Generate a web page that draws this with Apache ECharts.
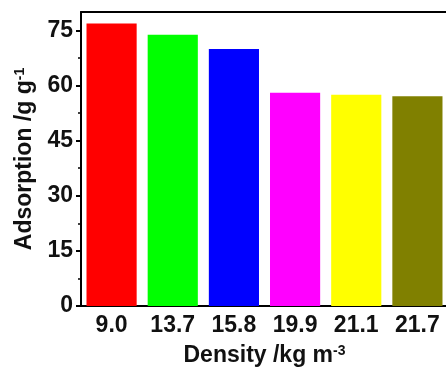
<!DOCTYPE html>
<html>
<head>
<meta charset="UTF-8">
<title></title>
<script src="https://cdn.jsdelivr.net/npm/echarts@6/dist/echarts.min.js"></script>
<style>
  html, body { margin: 0; padding: 0; background: #fff; overflow: hidden; }
</style>
</head>
<body>
<div id="main" style="width: 446px;height:370px;"></div>
<script type="text/javascript">
var densities = ['9.0', '13.7', '15.8', '19.9', '21.1', '21.7'];
var adsorption = [76.9, 73.8, 69.9, 58.0, 57.5, 57.1];
var barColors = ['#ff0000', '#00ff00', '#0000ff', '#ff00ff', '#ffff00', '#808000'];
var yTicks = [0, 15, 30, 45, 60, 75];

var font = 'Liberation Sans, Arial, sans-serif';

var option = {
  animation: false,
  grid: {
    left: 81, top: 12, right: -2, height: 294,
    outerBoundsMode: 'none'
  },
  xAxis: [{
    type: 'category',
    data: densities,
    axisLine: { lineStyle: { color: '#000', width: 2 } },
    axisTick: { show: false },
    axisLabel: { color: '#111', fontFamily: font, fontWeight: 'bold', fontSize: 23, margin: 8 },
    name: '{b|Density /kg m}{s|-3}',
    nameLocation: 'middle',
    nameGap: 38,
    nameTextStyle: {
      rich: {
        b: { fontFamily: font, fontWeight: 'bold', fontSize: 23, color: '#111' },
        s: { fontFamily: font, fontWeight: 'bold', fontSize: 14, color: '#111', verticalAlign: 'top', padding: [0, 0, 10, 0] }
      }
    }
  }, {
    // top frame line
    type: 'category',
    position: 'top',
    data: densities,
    axisLine: { show: true, lineStyle: { color: '#000', width: 2 } },
    axisTick: { show: false },
    axisLabel: { show: false }
  }],
  yAxis: {
    type: 'value',
    min: 0,
    max: 80,
    interval: 15,
    splitLine: { show: false },
    axisLine: { show: true, lineStyle: { color: '#000', width: 2 } },
    axisTick: { show: true, length: 5, lineStyle: { color: '#000', width: 2 }, customValues: yTicks },
    minorTick: { show: true, splitNumber: 2, length: 3, lineStyle: { color: '#000', width: 1.5 } },
    axisLabel: { color: '#111', fontFamily: font, fontWeight: 'bold', fontSize: 23, margin: 8, customValues: yTicks },
    name: '{b|Adsorption /g g}{s|-1}',
    nameLocation: 'middle',
    nameRotate: 90,
    nameGap: 43,
    nameTextStyle: {
      rich: {
        b: { fontFamily: font, fontWeight: 'bold', fontSize: 23, color: '#111' },
        s: { fontFamily: font, fontWeight: 'bold', fontSize: 14, color: '#111', verticalAlign: 'top', padding: [0, 0, 10, 0] }
      }
    }
  },
  series: [{
    type: 'bar',
    barCategoryGap: '18%',
    data: adsorption.map(function (v, i) {
      return { value: v, itemStyle: { color: barColors[i] } };
    })
  }]
};

echarts.init(document.getElementById('main')).setOption(option);
</script>
</body>
</html>
